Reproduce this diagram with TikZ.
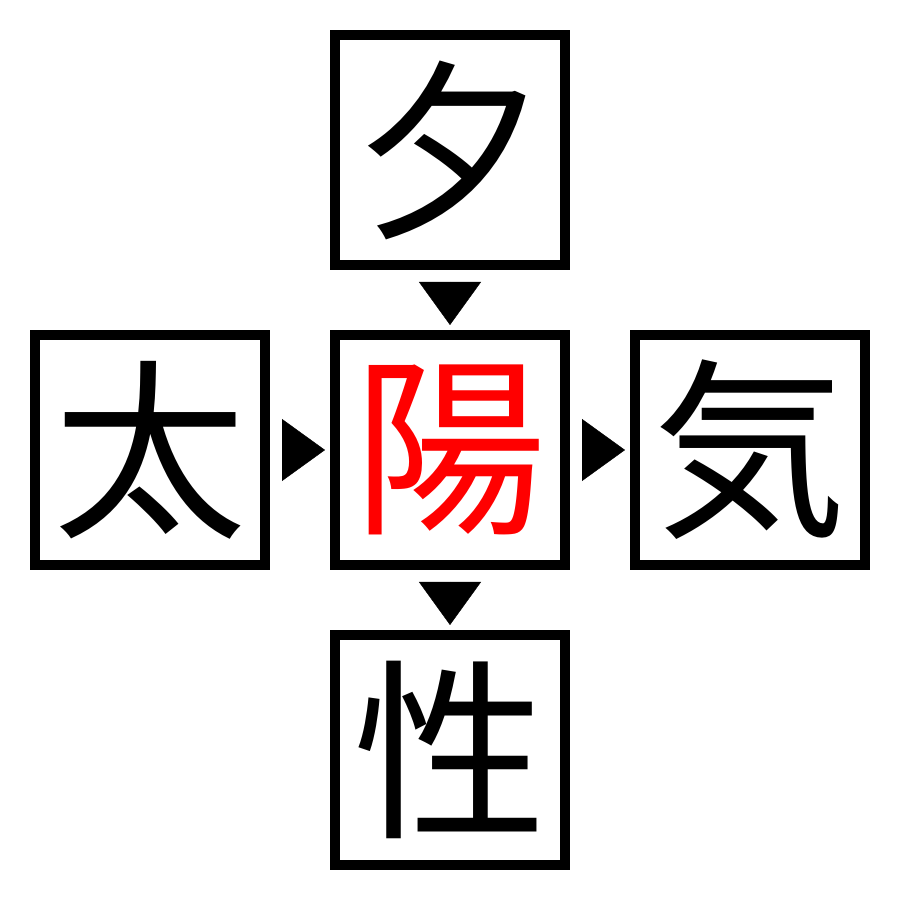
\documentclass[tikz,border=0pt]{standalone}
\usepackage{fontspec}
\newfontfamily\cjk{Noto Sans CJK JP}
\usetikzlibrary{positioning, arrows.meta}
\tikzstyle{kanji} = [rectangle, minimum width=2.3cm, minimum height=2.3cm, line width=1mm, outer sep=0.5mm, draw=black, text centered, font=\cjk\fontsize{55}{55}\selectfont]
\tikzstyle{arrow} = [line width=0.1pt, -{Triangle[length=4.3mm,width=6.2mm]}, shorten <=1.2mm, shorten >=0.5mm]

\begin{document}
\begin{tikzpicture}[node distance=3cm, on grid]
    \useasboundingbox (0,0) rectangle (9,9);
    \node (sun) [kanji, text=red] at (4.5,4.5) {陽};
    \node (eve) [kanji, above=of sun] {夕};
    \node (big) [kanji, left=of sun] {太};
    \node (air) [kanji, right=of sun] {気};
    \node (sex) [kanji, below=of sun] {性};

    \draw [arrow] (eve) -- (sun);
    \draw [arrow] (big) -- (sun);
    \draw [arrow] (sun) -- (air);
    \draw [arrow] (sun) -- (sex);
\end{tikzpicture}
\end{document}
